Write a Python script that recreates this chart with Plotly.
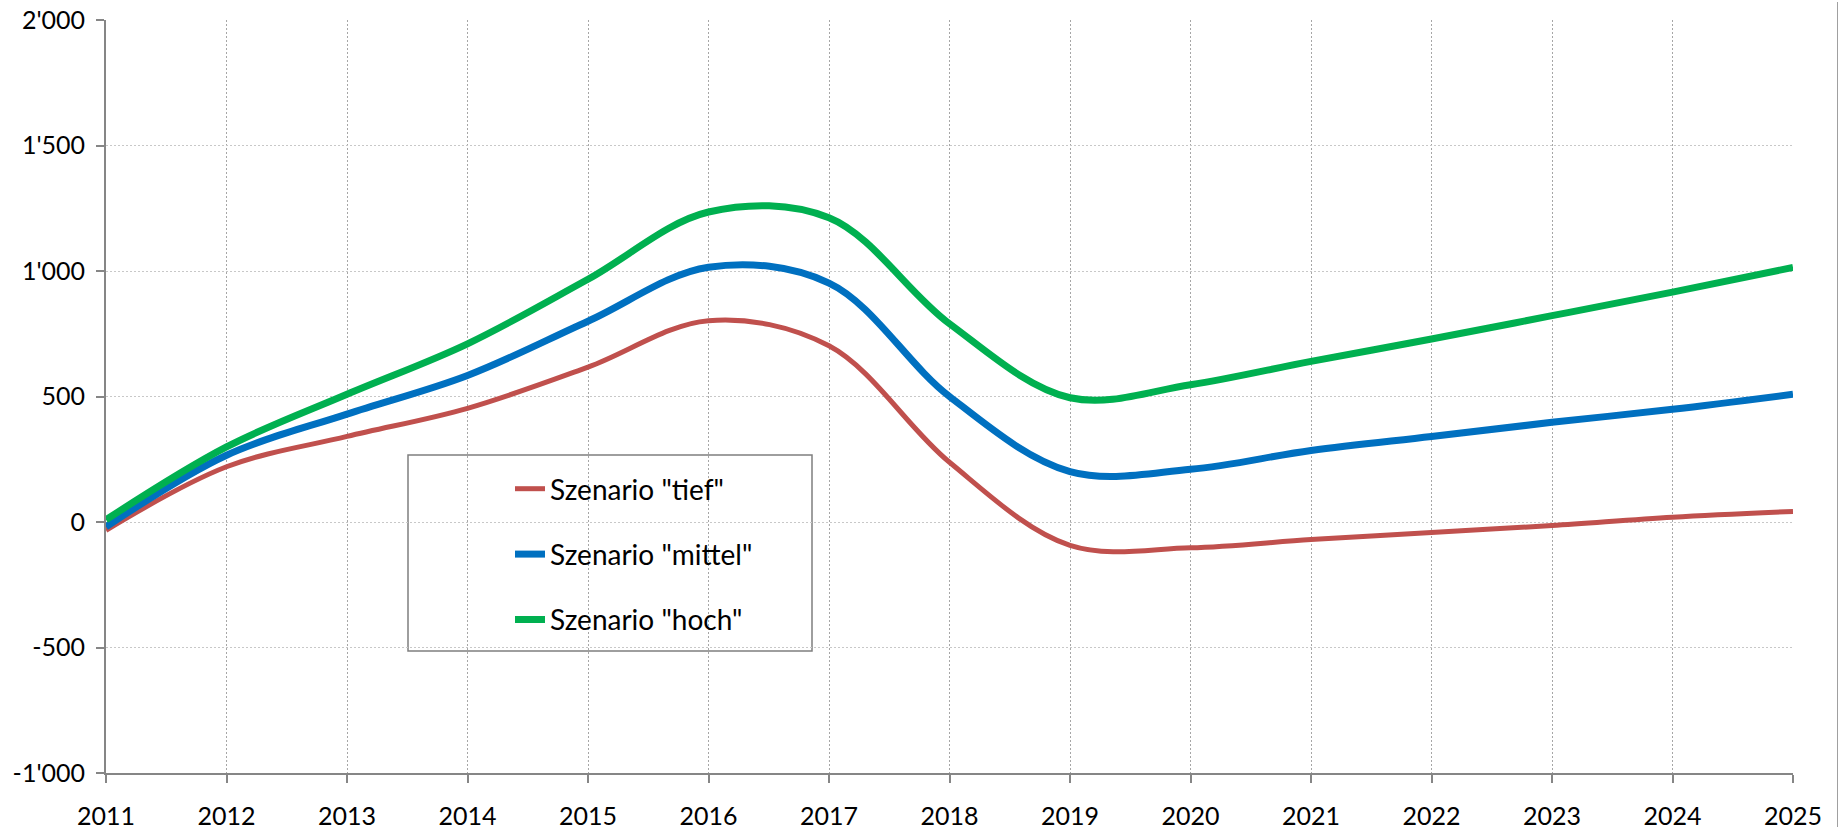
import plotly.graph_objects as go

years = list(range(2011, 2026))
tief = [-33, 220, 341, 453, 617, 802, 702, 238, -93, -103, -70, -42, -14, 19, 42]
mittel = [-19, 266, 430, 584, 800, 1015, 952, 500, 201, 210, 285, 341, 397, 449, 509]
hoch = [9, 299, 509, 710, 967, 1235, 1212, 790, 495, 547, 640, 729, 822, 916, 1014]
series_names = ['Szenario "tief"', 'Szenario "mittel"', 'Szenario "hoch"']
colors = ["#C0504D", "#0070C0", "#00B050"]
widths = [5, 7, 7]
y_ticks = [-1000, -500, 0, 500, 1000, 1500, 2000]
y_ticklabels = ["-1'000", "-500", "0", "500", "1'000", "1'500", "2'000"]

W, H = 1845, 829
# target plot area in page pixels: x 106..1793, y 20..773
L, T = 106, 20
R = W - 1793
B = H - 773
pw, ph = W - L - R, H - T - B


def px_x(p):
    return (p - L) / pw


def px_y(p):
    return (H - B - p) / ph


fig = go.Figure()
for i, vals in enumerate([tief, mittel, hoch]):
    fig.add_trace(go.Scatter(
        x=years, y=vals, mode="lines", name=series_names[i],
        line=dict(color=colors[i], width=widths[i], shape="spline", smoothing=1.0),
        legendgroup=f"g{i}",
    ))

font = "Lato, 'Open Sans', sans-serif"

fig.update_layout(
    width=W, height=H,
    margin=dict(l=L, r=R, t=T, b=B, autoexpand=False),
    plot_bgcolor="white", paper_bgcolor="white",
    font=dict(family=font, size=25, color="black"),
    showlegend=True,
    legend=dict(
        x=px_x(510), y=px_y(464), xanchor="left", yanchor="top",
        bgcolor="rgba(0,0,0,0)", borderwidth=0,
        font=dict(size=28, family=font),
        tracegroupgap=26,
    ),
    xaxis=dict(
        range=[2011, 2025], tickmode="array", tickvals=years,
        ticks="outside", ticklen=8, tickcolor="#868686", tickwidth=2,
        showline=True, linecolor="#868686", linewidth=2,
        zeroline=False, ticklabelstandoff=12, automargin=False,
        showgrid=True, gridcolor="#A6A6A6", griddash="2px,2px", gridwidth=1,
    ),
    yaxis=dict(
        range=[-1000, 2000], tickmode="array", tickvals=y_ticks, ticktext=y_ticklabels,
        ticks="outside", ticklen=8, tickcolor="#868686", tickwidth=2,
        showline=True, linecolor="#868686", linewidth=2,
        zeroline=False, ticklabelstandoff=6, automargin=False,
        showgrid=True, gridcolor="#C8C8C8", griddash="2px,2px", gridwidth=1,
    ),
    shapes=[
        dict(type="rect", xref="paper", yref="paper",
             x0=px_x(408), x1=px_x(812), y0=px_y(651), y1=px_y(455),
             fillcolor="white", line=dict(color="#7F7F7F", width=1.5), layer="between"),
    ],
    annotations=[
        dict(xref="paper", yref="paper", x=px_x(1838), y=px_y(414),
             xanchor="center", yanchor="middle", text=" ", showarrow=False,
             width=1, height=825, bgcolor="#A0A0A0", borderpad=0, borderwidth=0),
    ],
)

fig.write_html(
    "out.html",
    config={"displayModeBar": False},
    post_script="document.body.style.margin='0';document.body.style.overflow='hidden';",
)
